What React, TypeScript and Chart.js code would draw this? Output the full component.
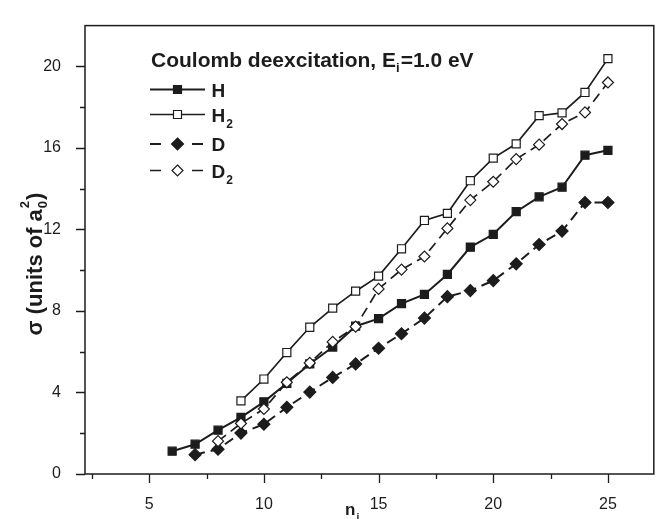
import React, { useEffect, useRef } from "react";
import { Chart, registerables } from "chart.js";

Chart.register(...registerables);

// ---- data ----
const nH = [6, 7, 8, 9, 10, 11, 12, 13, 14, 15, 16, 17, 18, 19, 20, 21, 22, 23, 24, 25];
const sigmaH = [1.12, 1.46, 2.15, 2.78, 3.54, 4.45, 5.4, 6.23, 7.25, 7.62, 8.36, 8.81, 9.79, 11.13, 11.76, 12.87, 13.6, 14.07, 15.64, 15.88];

const nH2 = [9, 10, 11, 12, 13, 14, 15, 16, 17, 18, 19, 20, 21, 22, 23, 24, 25];
const sigmaH2 = [3.59, 4.66, 5.96, 7.2, 8.14, 8.97, 9.71, 11.05, 12.44, 12.79, 14.39, 15.5, 16.2, 17.58, 17.72, 18.72, 20.38];

const nD = [7, 8, 9, 10, 11, 12, 13, 14, 15, 16, 17, 18, 19, 20, 21, 22, 23, 24, 25];
const sigmaD = [0.95, 1.22, 2.01, 2.44, 3.27, 4.02, 4.74, 5.4, 6.17, 6.88, 7.65, 8.7, 9.0, 9.49, 10.31, 11.26, 11.92, 13.32, 13.32];

const nD2 = [8, 9, 10, 11, 12, 13, 14, 15, 16, 17, 18, 19, 20, 21, 22, 23, 24, 25];
const sigmaD2 = [1.61, 2.48, 3.19, 4.5, 5.45, 6.48, 7.23, 9.08, 10.03, 10.67, 12.05, 13.44, 14.34, 15.45, 16.16, 17.17, 17.74, 19.21];

const xMajorTicks = [5, 10, 15, 20, 25];
const xMinorTicks = [2.5, 7.5, 12.5, 17.5, 22.5];
const yMajorTicks = [0, 4, 8, 12, 16, 20];
const yMinorTicks = [2, 6, 10, 14, 18];

const legendTitle = ["Coulomb deexcitation, E", "i", "=1.0 eV"];
const legendEntries = [
  { name: "H", sub: "" },
  { name: "H", sub: "2" },
  { name: "D", sub: "" },
  { name: "D", sub: "2" },
];

const FONT = '"Liberation Sans", Arial, Helvetica, sans-serif';
const INK = "#1c1c1c";

function pts(xs: number[], ys: number[]) {
  return xs.map((x, i) => ({ x, y: ys[i] }));
}

function drawMarker(ctx: CanvasRenderingContext2D, kind: number, x: number, y: number) {
  ctx.save();
  ctx.lineWidth = 1.2;
  ctx.strokeStyle = INK;
  ctx.fillStyle = kind === 0 || kind === 2 ? INK : "#fff";
  ctx.beginPath();
  if (kind < 2) {
    const s = 4;
    ctx.rect(x - s, y - s, 2 * s, 2 * s);
  } else {
    const r = kind === 2 ? 6 : 5.5;
    ctx.moveTo(x, y - r);
    ctx.lineTo(x + r, y);
    ctx.lineTo(x, y + r);
    ctx.lineTo(x - r, y);
    ctx.closePath();
  }
  ctx.fill();
  ctx.stroke();
  ctx.restore();
}

const decorPlugin = {
  id: "decor",
  afterDraw(chart: any) {
    const ctx: CanvasRenderingContext2D = chart.ctx;
    const { left, right, top, bottom } = chart.chartArea;
    const xs = chart.scales.x;
    const ys = chart.scales.y;
    ctx.save();
    ctx.strokeStyle = INK;
    ctx.lineWidth = 1.5;
    ctx.strokeRect(left, top, right - left, bottom - top);

    ctx.lineWidth = 1.3;
    ctx.beginPath();
    xMajorTicks.forEach((v) => {
      const p = Math.round(xs.getPixelForValue(v)) + 0.5;
      ctx.moveTo(p, bottom);
      ctx.lineTo(p, bottom + 9);
    });
    xMinorTicks.forEach((v) => {
      const p = Math.round(xs.getPixelForValue(v)) + 0.5;
      ctx.moveTo(p, bottom);
      ctx.lineTo(p, bottom + 5);
    });
    yMajorTicks.forEach((v) => {
      const p = Math.round(ys.getPixelForValue(v)) + 0.5;
      ctx.moveTo(left, p);
      ctx.lineTo(left - 9, p);
    });
    yMinorTicks.forEach((v) => {
      const p = Math.round(ys.getPixelForValue(v)) + 0.5;
      ctx.moveTo(left, p);
      ctx.lineTo(left - 5, p);
    });
    ctx.stroke();

    ctx.fillStyle = INK;
    ctx.textBaseline = "alphabetic";
    ctx.textAlign = "left";

    // legend title
    let tx = 151;
    const tb = 67;
    ctx.font = `bold 21px ${FONT}`;
    ctx.fillText(legendTitle[0], tx, tb);
    tx += ctx.measureText(legendTitle[0]).width;
    ctx.font = `bold 13px ${FONT}`;
    ctx.fillText(legendTitle[1], tx, tb + 5);
    tx += ctx.measureText(legendTitle[1]).width + 1;
    ctx.font = `bold 21px ${FONT}`;
    ctx.fillText(legendTitle[2], tx, tb);

    // legend entries
    const rowY = [89.5, 114.5, 144, 170.5];
    legendEntries.forEach((e, i) => {
      const y = rowY[i];
      ctx.save();
      ctx.strokeStyle = INK;
      ctx.lineWidth = i % 2 === 0 ? 2 : 1.6;
      ctx.beginPath();
      if (i < 2) {
        ctx.moveTo(150, y);
        ctx.lineTo(205, y);
      } else {
        ctx.moveTo(150, y);
        ctx.lineTo(161, y);
        ctx.moveTo(192, y);
        ctx.lineTo(203, y);
      }
      ctx.stroke();
      ctx.restore();
      drawMarker(ctx, i, 177.5, y);
      ctx.font = `bold 19px ${FONT}`;
      ctx.fillStyle = INK;
      ctx.fillText(e.name, 211.5, y + 7);
      if (e.sub) {
        const w = ctx.measureText(e.name).width;
        ctx.font = `bold 12px ${FONT}`;
        ctx.fillText(e.sub, 211.5 + w + 1, y + 13);
      }
    });

    // x axis title
    ctx.font = `bold 17px ${FONT}`;
    ctx.fillText("n", 345, 515);
    const nw = ctx.measureText("n").width;
    ctx.font = `bold 10px ${FONT}`;
    ctx.fillText("i", 345 + nw + 1, 521);

    // y axis title
    ctx.save();
    ctx.translate(42, 264);
    ctx.rotate(-Math.PI / 2);
    const a = "\u03c3 (units of a";
    const c = ")";
    ctx.font = `bold 22px ${FONT}`;
    const wa = ctx.measureText(a).width;
    const wc = ctx.measureText(c).width;
    ctx.font = `bold 13px ${FONT}`;
    const ws = ctx.measureText("0").width + 2;
    const total = wa + ws + wc;
    let x0 = -total / 2;
    ctx.font = `bold 22px ${FONT}`;
    ctx.fillText(a, x0, 0);
    x0 += wa;
    ctx.font = `bold 13px ${FONT}`;
    ctx.fillText("0", x0 + 1, 5);
    ctx.fillText("2", x0 + 1, -13);
    x0 += ws;
    ctx.font = `bold 22px ${FONT}`;
    ctx.fillText(c, x0, 0);
    ctx.restore();

    ctx.restore();
  },
};

export default function App() {
  const ref = useRef<HTMLCanvasElement>(null);
  useEffect(() => {
    if (!ref.current) return;
    const common = {
      showLine: true,
      borderColor: INK,
      pointBorderColor: INK,
      pointBorderWidth: 1.2,
      pointHoverRadius: 0,
    };
    const chart = new Chart(ref.current, {
      type: "scatter",
      data: {
        datasets: [
          {
            ...common,
            label: "H",
            data: pts(nH, sigmaH),
            borderWidth: 2,
            pointStyle: "rect",
            pointRadius: 5.7,
            pointBackgroundColor: INK,
            order: 3,
          },
          {
            ...common,
            label: "H2",
            data: pts(nH2, sigmaH2),
            borderWidth: 1.7,
            pointStyle: "rect",
            pointRadius: 5.7,
            pointBackgroundColor: "#fff",
            order: 1,
          },
          {
            ...common,
            label: "D",
            data: pts(nD, sigmaD),
            borderWidth: 2,
            borderDash: [10, 6],
            pointStyle: "rectRot",
            pointRadius: 6,
            pointBackgroundColor: INK,
            order: 2,
          },
          {
            ...common,
            label: "D2",
            data: pts(nD2, sigmaD2),
            borderWidth: 1.7,
            borderDash: [10, 6],
            pointStyle: "rectRot",
            pointRadius: 5.5,
            pointBackgroundColor: "#fff",
            order: 0,
          },
        ],
      },
      options: {
        animation: false,
        responsive: false,
        maintainAspectRatio: false,
        layout: { padding: { top: 11, right: 6, left: 0, bottom: 0 } },
        plugins: { legend: { display: false }, tooltip: { enabled: false } },
        scales: {
          x: {
            type: "linear",
            min: 2.2,
            max: 27,
            grid: { display: false },
            border: { display: false },
            afterBuildTicks: (s: any) => {
              s.ticks = xMajorTicks.map((v) => ({ value: v }));
            },
            afterFit: (s: any) => {
              s.height = 45;
            },
            ticks: {
              padding: 13,
              autoSkip: false,
              maxRotation: 0,
              color: INK,
              font: { family: FONT, size: 16 },
            },
          },
          y: {
            type: "linear",
            min: 0,
            max: 22,
            grid: { display: false },
            border: { display: false },
            afterBuildTicks: (s: any) => {
              s.ticks = yMajorTicks.map((v) => ({ value: v }));
            },
            afterFit: (s: any) => {
              s.width = 85;
            },
            ticks: {
              padding: 16,
              autoSkip: false,
              color: INK,
              font: { family: FONT, size: 16 },
            },
          },
        },
      },
      plugins: [decorPlugin],
    });
    return () => chart.destroy();
  }, []);
  return (
    <div style={{ position: "absolute", left: 0, top: 0, width: 661, height: 519, background: "#fff" }}>
      <canvas ref={ref} width={661} height={519} style={{ display: "block" }} />
    </div>
  );
}
